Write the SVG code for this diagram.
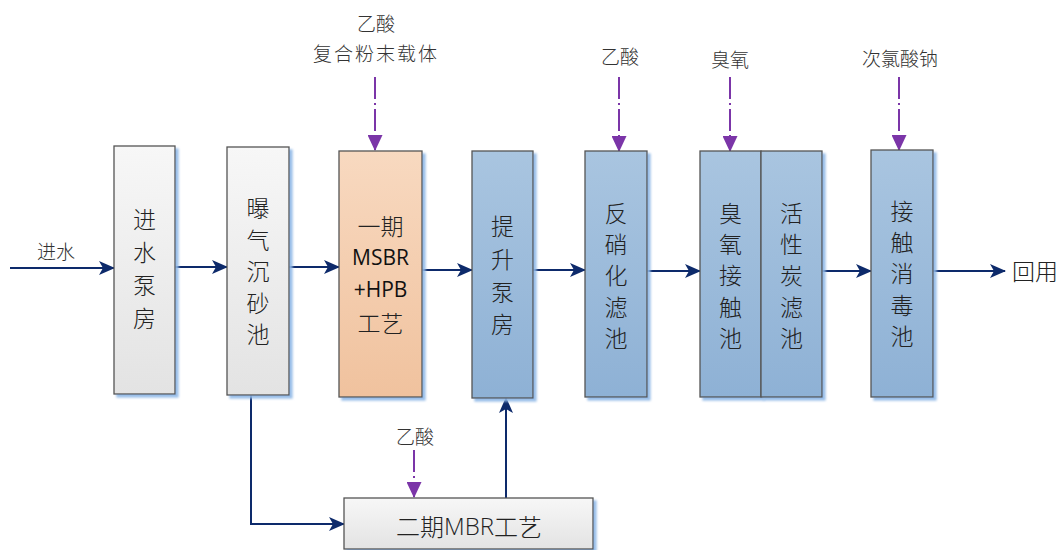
<svg xmlns="http://www.w3.org/2000/svg" width="1062" height="550" viewBox="0 0 1062 550">
<defs>
<linearGradient id="gGray" x1="0" y1="0" x2="0" y2="1"><stop offset="0" stop-color="#f7f7f7"/><stop offset="1" stop-color="#e3e3e3"/></linearGradient>
<linearGradient id="gOrange" x1="0" y1="0" x2="0" y2="1"><stop offset="0" stop-color="#f8d9c0"/><stop offset="1" stop-color="#f0c29e"/></linearGradient>
<linearGradient id="gBlue" x1="0" y1="0" x2="0" y2="1"><stop offset="0" stop-color="#a9c5e0"/><stop offset="1" stop-color="#8eb1d5"/></linearGradient>
<filter id="sh" x="-10%" y="-5%" width="130%" height="115%"><feDropShadow dx="3" dy="3" stdDeviation="1.2" flood-color="#8fb8e6" flood-opacity="0.9"/></filter>
<marker id="ah" markerWidth="16" markerHeight="14" refX="15" refY="7" orient="auto" markerUnits="userSpaceOnUse"><path d="M0,0 L16,7 L0,14 L4,7 Z" fill="#0d2a6b"/></marker>
<marker id="ap" markerWidth="16" markerHeight="15" refX="15" refY="7.5" orient="auto" markerUnits="userSpaceOnUse"><path d="M0,0 L16,7.5 L0,15 Z" fill="#7b35a8"/></marker>
</defs>
<style>
.box{stroke:#555;stroke-width:1.3;filter:url(#sh)}
.t{font-family:"Noto Sans CJK SC","Liberation Sans",sans-serif;font-size:23px;fill:#222;text-anchor:middle;dominant-baseline:central;font-weight:300}
.tl{font-family:"Open Sans","Liberation Sans",sans-serif;font-size:21px;fill:#111;text-anchor:middle;dominant-baseline:central}
.lab{font-family:"Noto Sans CJK SC",sans-serif;font-size:19px;fill:#333;text-anchor:middle;dominant-baseline:central;font-weight:300}
.c{stroke:#0d2a6b;stroke-width:2;fill:none;marker-end:url(#ah)}
.d{stroke:#7b35a8;stroke-width:2;fill:none;stroke-dasharray:22 4 2 4;marker-end:url(#ap)}
</style>
<g id="connectors">
<path class="c" d="M10,268 H114"/>
<path class="c" d="M175,267 H227"/>
<path class="c" d="M289,267 H339"/>
<path class="c" d="M422,270 H472"/>
<path class="c" d="M533,270 H585"/>
<path class="c" d="M647,271 H700"/>
<path class="c" d="M822,271 H871"/>
<path class="c" d="M933,271 H1005"/>
<path class="c" d="M251,395 V524 H344"/>
<path class="c" d="M506,498 V398"/>
<path class="d" d="M375,77 V150"/>
<path class="d" d="M619,77 V151"/>
<path class="d" d="M730,77 V151"/>
<path class="d" d="M899,77 V150"/>
<path class="d" d="M414,450 V497"/>
</g>
<g id="n1"><rect class="box" x="114" y="146" width="61" height="248" fill="url(#gGray)"/>
<text class="t" x="144.5"><tspan x="144.5" y="218">进</tspan><tspan x="144.5" y="251">水</tspan><tspan x="144.5" y="284">泵</tspan><tspan x="144.5" y="317">房</tspan></text></g>
<g id="n2"><rect class="box" x="227" y="147" width="62" height="248" fill="url(#gGray)"/>
<text class="t"><tspan x="258" y="207">曝</tspan><tspan x="258" y="238.5">气</tspan><tspan x="258" y="270">沉</tspan><tspan x="258" y="301.5">砂</tspan><tspan x="258" y="333">池</tspan></text></g>
<g id="n3"><rect class="box" x="339" y="151" width="83" height="246" fill="url(#gOrange)"/>
<text class="t" x="380.5" y="225">一期</text>
<text class="tl" x="380.5" y="257">MSBR</text>
<text class="tl" x="380.5" y="289">+HPB</text>
<text class="t" x="380.5" y="322">工艺</text></g>
<g id="n4"><rect class="box" x="472" y="151" width="61" height="247" fill="url(#gBlue)"/>
<text class="t"><tspan x="502.5" y="225">提</tspan><tspan x="502.5" y="258">升</tspan><tspan x="502.5" y="291">泵</tspan><tspan x="502.5" y="323">房</tspan></text></g>
<g id="n5"><rect class="box" x="585" y="151" width="62" height="246" fill="url(#gBlue)"/>
<text class="t"><tspan x="616" y="212">反</tspan><tspan x="616" y="243">硝</tspan><tspan x="616" y="274">化</tspan><tspan x="616" y="306">滤</tspan><tspan x="616" y="337">池</tspan></text></g>
<g id="n6"><rect class="box" x="700" y="151" width="61" height="246" fill="url(#gBlue)"/>
<text class="t"><tspan x="730.5" y="212">臭</tspan><tspan x="730.5" y="243">氧</tspan><tspan x="730.5" y="274">接</tspan><tspan x="730.5" y="306">触</tspan><tspan x="730.5" y="337">池</tspan></text></g>
<g id="n7"><rect class="box" x="761" y="151" width="61" height="246" fill="url(#gBlue)"/>
<text class="t"><tspan x="791.5" y="212">活</tspan><tspan x="791.5" y="243">性</tspan><tspan x="791.5" y="274">炭</tspan><tspan x="791.5" y="306">滤</tspan><tspan x="791.5" y="337">池</tspan></text></g>
<g id="n8"><rect class="box" x="871" y="150" width="62" height="247" fill="url(#gBlue)"/>
<text class="t"><tspan x="902" y="210">接</tspan><tspan x="902" y="241">触</tspan><tspan x="902" y="272">消</tspan><tspan x="902" y="304">毒</tspan><tspan x="902" y="335">池</tspan></text></g>
<g id="n9"><rect class="box" x="344" y="498" width="249" height="51" fill="url(#gGray)"/>
<text class="t" x="469" y="525" style="font-size:24px">二期<tspan style="font-family:'Open Sans','Liberation Sans',sans-serif">MBR</tspan>工艺</text></g>
<g id="labels">
<text class="lab" x="376" y="22">乙酸</text>
<text class="lab" x="376" y="52" letter-spacing="2">复合粉末载体</text>
<text class="lab" x="620" y="55">乙酸</text>
<text class="lab" x="730" y="58">臭氧</text>
<text class="lab" x="900" y="57">次氯酸钠</text>
<text class="lab" x="415" y="435">乙酸</text>
<text class="lab" x="56" y="250">进水</text>
<text class="t" x="1035" y="270">回用</text>
</g>
</svg>
